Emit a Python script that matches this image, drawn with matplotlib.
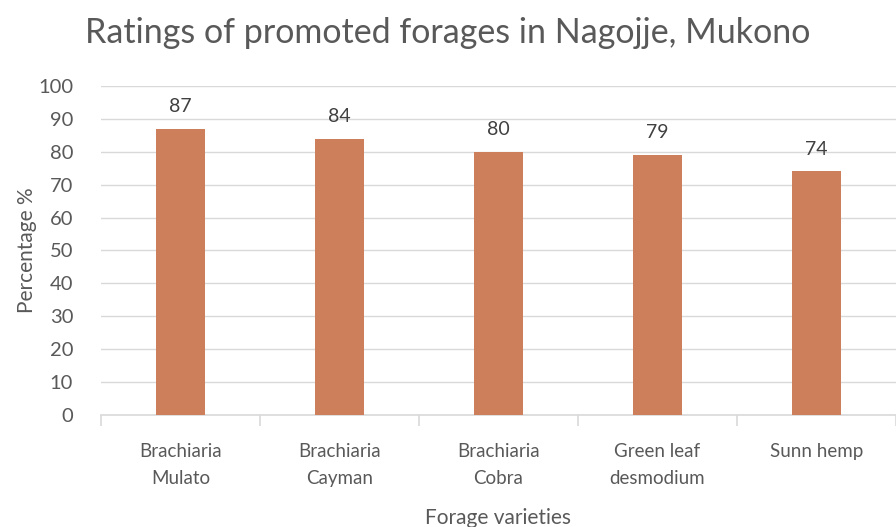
import matplotlib as mpl
import matplotlib.pyplot as plt

mpl.rc('font', family=['Lato', 'DejaVu Sans'])

categories = ['Brachiaria\nMulato', 'Brachiaria\nCayman', 'Brachiaria\nCobra',
              'Green leaf\ndesmodium', 'Sunn hemp']
ratings = [87, 84, 80, 79, 74]
yticks = list(range(0, 101, 10))

TXT = '#595959'
BAR = '#CD7F5C'
GRID = '#D9D9D9'


def main():
    fig = plt.figure(figsize=(8.96, 5.27), dpi=100)
    ax = fig.add_axes([0.1127, 0.2125, 0.8873, 0.6245])

    pos = range(len(categories))
    bars = ax.bar(pos, ratings, width=0.31, color=BAR, zorder=3)
    for b, v in zip(bars, ratings):
        ax.annotate(str(v), (b.get_x() + b.get_width() / 2, v),
                    xytext=(0, 10), textcoords='offset points',
                    ha='center', va='bottom', fontsize=14, color='#404040')

    ax.set_xlim(-0.5, len(categories) - 0.5)
    ax.set_ylim(0, 100)
    ax.set_yticks(yticks)
    ax.yaxis.grid(True, color=GRID, lw=1, zorder=0)
    ax.tick_params(axis='y', length=0, labelsize=14.5, labelcolor=TXT, pad=20)

    ax.set_xticks(list(pos))
    ax.set_xticklabels(categories, fontsize=13.5, color=TXT, linespacing=1.75)
    ax.tick_params(axis='x', length=0, pad=20)
    ax.set_xticks([i - 0.5 for i in range(len(categories) + 1)], minor=True)
    ax.tick_params(axis='x', which='minor', length=8, color=GRID, width=1.2)

    for s in ['top', 'right', 'left']:
        ax.spines[s].set_visible(False)
    ax.spines['bottom'].set_color(GRID)
    ax.spines['bottom'].set_linewidth(1.2)

    ax.set_ylabel('Percentage %', fontsize=15, color=TXT, labelpad=1)
    ax.set_xlabel('Forage varieties', fontsize=15, color=TXT, labelpad=15)
    fig.text(0.5, 0.937, 'Ratings of promoted forages in Nagojje, Mukono',
             ha='center', va='center', fontsize=24.5, color=TXT)

    fig.savefig('out.png', dpi=100)


if __name__ == '__main__':
    main()
